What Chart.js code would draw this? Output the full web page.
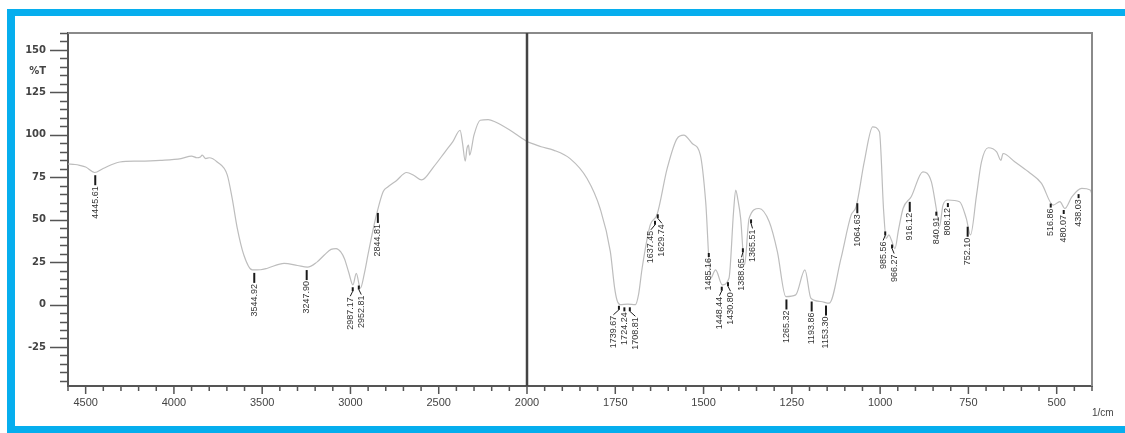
<!DOCTYPE html>
<html>
<head>
<meta charset="utf-8">
<title>IR spectrum</title>
<script src="https://cdn.jsdelivr.net/npm/chart.js@4.4.1/dist/chart.umd.min.js"></script>
<style>
  html, body { margin: 0; padding: 0; background: #fff; overflow: hidden; }
  #wrap { position: relative; width: 1125px; height: 433px; }
  #spectrum { position: absolute; left: 0; top: 0; }
  #frame {
    position: absolute; left: 7px; top: 9px; width: 1130px; height: 424px;
    box-sizing: border-box; pointer-events: none;
    border-left: 8px solid #06aeee; border-top: 7px solid #06aeee; border-bottom: 7px solid #06aeee;
  }
</style>
</head>
<body>
<div id="wrap">
  <canvas id="spectrum" width="1125" height="433"></canvas>
  <div id="frame"></div>
</div>
<script>
// Spectrum, 4600 - 2000 1/cm (left half of the plot)
const wnLeft = [4600, 4560, 4534, 4500, 4449, 4401, 4306, 4200, 4078, 3960, 3900, 3870, 3850, 3840, 3820, 3800, 3755,
  3698, 3670, 3641, 3604, 3556, 3510, 3470, 3376, 3300, 3243, 3190, 3148, 3110, 3081, 3055, 3034, 3010, 2986, 2967,
  2944, 2920, 2901, 2870, 2853, 2815, 2787, 2740, 2682, 2640, 2597, 2530, 2464, 2420, 2379, 2365, 2350, 2340, 2331,
  2325, 2300, 2265, 2220, 2179, 2100, 2027, 2000];
const tLeft = [82.8, 82.5, 82, 81, 77.8, 80.2, 84, 84.5, 85, 86, 87.5, 86.5, 87, 88, 86, 86.5, 84,
  76.4, 62.5, 44.9, 29.2, 20.4, 20.5, 21.4, 24.3, 23, 22, 25, 29.2, 32.5, 33, 31, 27, 19, 11.6, 18.4,
  9.6, 19, 29.2, 45, 52.8, 66.5, 69.4, 73, 77.8, 76, 73.4, 81, 90, 96, 102.7, 95, 84.5, 92, 93.9,
  88, 100, 108.6, 109, 107.6, 103, 97.8, 96];

// Spectrum, 2000 - 400 1/cm (right half of the plot)
const wnRight = [2000, 1960, 1925, 1878, 1830, 1793, 1764, 1752, 1745, 1736, 1715, 1693, 1684, 1674, 1651, 1632, 1603,
  1575, 1556, 1532, 1509, 1494, 1480, 1466, 1447, 1428, 1415, 1409, 1403, 1395, 1384, 1371, 1343, 1314, 1291, 1267,
  1239, 1213, 1196, 1168, 1144, 1111, 1082, 1068, 1045, 1021, 1002, 990, 983, 975, 968, 958, 948, 935, 912, 879, 855,
  841, 832, 822, 808, 775, 756, 744, 727, 713, 694, 670, 658, 652, 618, 580, 543, 510, 491, 477, 457, 429, 405, 400];
const tRight = [96, 93, 91, 86, 74.3, 56.6, 31.2, 10, 2.5, 0, 0.2, 0, 6, 21.4, 46.9, 52.8, 80.2,
  97.8, 99.8, 94.9, 88, 60.6, 15.5, 20.4, 11.6, 15.5, 55, 67.5, 62, 50.8, 23.3, 50.8, 56.6, 48.8, 31.2, 4.7,
  5.7, 20.4, 3.7, 1.8, 0.8, 27, 52.8, 57.6, 84, 104.7, 101.8, 55, 39, 41, 38, 33, 44, 56.6, 63.5, 78.2, 72.4,
  56.6, 45.9, 58.6, 61.6, 60.6, 50.8, 41, 64.5, 84, 92.4, 90, 85, 89, 84, 78.2, 71.4, 58.6, 60.6, 56.6, 63.5, 68.4, 67.5, 65];

// Peak picks printed on the spectrum
const peakWn = [4445.61, 3544.92, 3247.90, 2987.17, 2952.81, 2844.81, 1739.67, 1724.24, 1708.81, 1637.45, 1629.74,
  1485.16, 1448.44, 1430.80, 1388.65, 1365.51, 1265.32, 1193.86, 1153.30, 1064.63, 985.56, 966.27, 916.12,
  840.91, 808.12, 752.10, 516.86, 480.07, 438.03];
const peakLabels = peakWn.map((w) => w.toFixed(2));

// Axis tick labels
const yTickLabels = [150, 125, 100, 75, 50, 25, 0, -25];
const yUnitLabel = '%T';
const xLeftTickLabels = [4500, 4000, 3500, 3000, 2500, 2000];
const xRightTickLabels = [1750, 1500, 1250, 1000, 750, 500];
const xUnitLabel = '1/cm';

const toPoints = (xs, ys) => xs.map((x, i) => ({ x: x, y: ys[i] }));

function curveAt(xs, ys, w) {
  for (let i = 0; i < xs.length - 1; i++) {
    if (w <= xs[i] && w >= xs[i + 1]) {
      const f = (xs[i] - w) / (xs[i] - xs[i + 1]);
      return ys[i] + f * (ys[i + 1] - ys[i]);
    }
  }
  return ys[ys.length - 1];
}

/**
 * Ticks, frame and the 2000 1/cm divider.
 */
const axisDecor = {
  id: 'axisDecor',
  afterDraw(chart) {
    const { ctx, chartArea, scales } = chart;
    const y = scales.y;
    ctx.save();
    ctx.strokeStyle = '#555';
    ctx.lineWidth = 1.5;
    ctx.beginPath();
    for (let v = -45; v <= 160; v += 5) {
      const py = Math.round(y.getPixelForValue(v)) + 0.5;
      const len = v % 25 === 0 ? 18 : 8;
      ctx.moveTo(chartArea.left - len, py);
      ctx.lineTo(chartArea.left, py);
    }
    for (let w = 4600; w >= 2000; w -= 100) {
      const px = scales.xL.getPixelForValue(w);
      ctx.moveTo(px, chartArea.bottom);
      ctx.lineTo(px, chartArea.bottom + (w % 500 === 0 ? 8 : 5));
    }
    for (let w = 2000; w >= 400; w -= 50) {
      const px = scales.xR.getPixelForValue(w);
      ctx.moveTo(px, chartArea.bottom);
      ctx.lineTo(px, chartArea.bottom + (w % 250 === 0 ? 8 : 5));
    }
    ctx.stroke();

    // top and right frame
    ctx.strokeStyle = '#8a8a8a';
    ctx.lineWidth = 2;
    ctx.beginPath();
    ctx.moveTo(chartArea.left, chartArea.top);
    ctx.lineTo(chartArea.right, chartArea.top);
    ctx.lineTo(chartArea.right, chartArea.bottom);
    ctx.stroke();

    // divider between the two wavenumber ranges
    const xd = scales.xR.left;
    ctx.strokeStyle = '#444';
    ctx.lineWidth = 2.5;
    ctx.beginPath();
    ctx.moveTo(xd, chartArea.top);
    ctx.lineTo(xd, chartArea.bottom);
    ctx.stroke();
    ctx.restore();
  },
};

/**
 * Peak markers with rotated wavenumber labels; crowded labels fan out.
 */
const peakMarks = {
  id: 'peakMarks',
  afterDatasetsDraw(chart, args, opts) {
    const { ctx, scales } = chart;
    const items = peakWn.map((w, i) => {
      const left = w > 2000;
      const t = left ? curveAt(wnLeft, tLeft, w) : curveAt(wnRight, tRight, w);
      const px = (left ? scales.xL : scales.xR).getPixelForValue(w);
      return { px: px, lx: px, top: scales.y.getPixelForValue(t) + opts.gap, label: peakLabels[i] };
    });

    // merge overlapping labels into evenly spaced clusters
    let clusters = items.map((it) => ({ members: [it], sum: it.px }));
    let merged = true;
    const place = (c) => c.sum / c.members.length - ((c.members.length - 1) * opts.minSep) / 2;
    while (merged) {
      merged = false;
      for (let i = 0; i < clusters.length - 1; i++) {
        const a = clusters[i], b = clusters[i + 1];
        if (place(a) + (a.members.length - 1) * opts.minSep + opts.minSep > place(b)) {
          clusters.splice(i, 2, { members: a.members.concat(b.members), sum: a.sum + b.sum });
          merged = true;
          break;
        }
      }
    }
    clusters.forEach((c) => {
      const start = place(c);
      c.members.forEach((m, k) => { m.lx = start + k * opts.minSep; });
    });

    ctx.save();
    items.forEach((it) => {
      const len = opts.longTicks.includes(it.label) ? opts.longLen : opts.shortLen;
      ctx.strokeStyle = '#1a1a1a';
      ctx.lineWidth = 2;
      ctx.beginPath();
      ctx.moveTo(it.px, it.top);
      ctx.lineTo(it.px, it.top + len);
      ctx.stroke();
      let textTop = it.top + len + 1;
      if (Math.abs(it.lx - it.px) > 0.5) {
        ctx.lineWidth = 1;
        ctx.beginPath();
        ctx.moveTo(it.px, it.top + len);
        ctx.lineTo(it.lx, it.top + len + 5);
        ctx.stroke();
        textTop += 5;
      }
      ctx.save();
      ctx.translate(it.lx, textTop);
      ctx.rotate(-Math.PI / 2);
      ctx.font = opts.font;
      ctx.fillStyle = '#333';
      ctx.textAlign = 'right';
      ctx.textBaseline = 'middle';
      ctx.fillText(it.label, 0, 0);
      ctx.restore();
    });
    ctx.restore();
  },
};

const xTickFont = { family: '"Liberation Sans", Arial, sans-serif', size: 11 };

new Chart(document.getElementById('spectrum'), {
  type: 'line',
  data: {
    datasets: [
      {
        data: toPoints(wnLeft, tLeft),
        xAxisID: 'xL',
        yAxisID: 'y',
        borderColor: '#bdbdbd',
        borderWidth: 1.2,
        pointRadius: 0,
        cubicInterpolationMode: 'monotone',
      },
      {
        data: toPoints(wnRight, tRight),
        xAxisID: 'xR',
        yAxisID: 'y',
        borderColor: '#bdbdbd',
        borderWidth: 1.2,
        pointRadius: 0,
        cubicInterpolationMode: 'monotone',
      },
    ],
  },
  options: {
    responsive: false,
    animation: false,
    devicePixelRatio: 1,
    layout: { padding: { top: 33, right: 33, left: 0, bottom: 0 } },
    plugins: {
      legend: { display: false },
      tooltip: { enabled: false },
      peakMarks: {
        gap: 3,
        longLen: 10,
        shortLen: 4,
        minSep: 11,
        font: '9px "Liberation Sans", Arial, sans-serif',
        longTicks: ['4445.61', '3544.92', '3247.90', '2844.81', '1265.32', '1193.86', '1153.30', '1064.63', '916.12', '752.10'],
      },
    },
    scales: {
      y: {
        type: 'linear',
        position: 'left',
        min: -48,
        max: 160,
        afterBuildTicks: (s) => {
          s.ticks = yTickLabels.map((v) => ({ value: v })).concat([{ value: 137.5 }]);
        },
        afterFit: (s) => { s.width = 68; },
        grid: { display: false, drawTicks: false },
        border: { display: true, color: '#555', width: 2 },
        ticks: {
          autoSkip: false,
          padding: 22,
          color: '#444',
          font: { family: '"DejaVu Sans", sans-serif', size: 10, weight: 'bold' },
          callback: (v) => (v === 137.5 ? yUnitLabel : String(v)),
        },
      },
      xL: {
        type: 'linear',
        position: 'bottom',
        stack: 'wn',
        stackWeight: 459,
        min: 2000,
        max: 4600,
        reverse: true,
        afterBuildTicks: (s) => { s.ticks = xLeftTickLabels.map((v) => ({ value: v })); },
        afterFit: (s) => { s.height = 47; },
        grid: { display: false, drawTicks: false },
        border: { display: true, color: '#555', width: 2 },
        ticks: { autoSkip: false, maxRotation: 0, padding: 10, color: '#444', font: xTickFont, callback: (v) => String(v) },
      },
      xR: {
        type: 'linear',
        position: 'bottom',
        stack: 'wn',
        stackWeight: 565,
        min: 400,
        max: 2000,
        reverse: true,
        afterBuildTicks: (s) => { s.ticks = xRightTickLabels.map((v) => ({ value: v })); },
        afterFit: (s) => { s.height = 47; },
        grid: { display: false, drawTicks: false },
        border: { display: true, color: '#555', width: 2 },
        ticks: { autoSkip: false, maxRotation: 0, padding: 10, color: '#444', font: xTickFont, callback: (v) => String(v) },
        title: {
          display: true,
          text: xUnitLabel,
          align: 'end',
          color: '#444',
          font: { family: '"Liberation Sans", Arial, sans-serif', size: 10 },
          padding: { top: 0, bottom: 14 },
        },
      },
    },
  },
  plugins: [axisDecor, peakMarks],
});
</script>
</body>
</html>
